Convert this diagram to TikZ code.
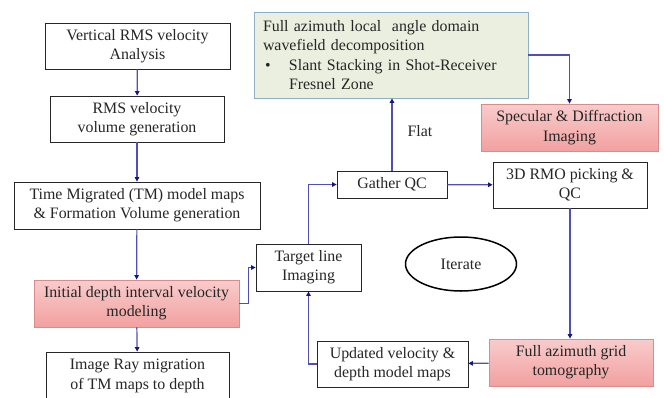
\documentclass[tikz,border=0pt]{standalone}
\usepackage{fontspec}
\setmainfont{Liberation Serif}
\usetikzlibrary{arrows.meta,shapes.geometric,calc}
\definecolor{ink}{HTML}{262626}
\definecolor{wire}{HTML}{5050B4}
\definecolor{tipc}{HTML}{16167F}
\definecolor{pinkedge}{HTML}{D98C8A}
\definecolor{pinktop}{HTML}{F9CCCC}
\definecolor{pinkbot}{HTML}{F2A0A0}
\definecolor{greenfill}{HTML}{EAEFDF}
\definecolor{greenedge}{HTML}{8FB0C4}
\begin{document}
\begin{tikzpicture}[x=1pt,y=-1pt,
  every node/.style={font=\fontsize{15.9}{19.3}\selectfont, text=ink, inner sep=0pt, align=center},
  plainbox/.style={rectangle, draw=ink, line width=0.8pt, fill=white},
  pinkbox/.style={rectangle, draw=pinkedge, line width=0.8pt, top color=pinktop, bottom color=pinkbot},
  flow/.style={draw=wire, line width=1.2pt, -{Triangle[length=4.5pt,width=4.5pt,color=tipc]}},
]
\useasboundingbox[fill=white] (0,0) rectangle (664,397);

% left column: time-domain preparation
\node[plainbox, minimum width=185pt, minimum height=46pt] (vrms) at (137.5,46)
  {Vertical RMS velocity\\Analysis};
\node[plainbox, minimum width=174pt, minimum height=46pt] (rmsvol) at (137,119)
  {RMS velocity\\volume generation};
\node[plainbox, minimum width=246pt, minimum height=47pt] (tmmaps) at (137,205.5)
  {Time Migrated (TM) model maps\\\& Formation Volume generation};
\node[pinkbox, minimum width=205pt, minimum height=47pt] (initvel) at (136.5,303.5)
  {Initial depth interval velocity\\modeling};
\node[plainbox, minimum width=183pt, minimum height=48pt] (imgray) at (137.5,376)
  {Image Ray migration\\of TM maps to depth};

% iteration loop
\node[plainbox, minimum width=105pt, minimum height=47pt] (target) at (308.5,267.5)
  {Target line\\Imaging};
\node[plainbox, minimum width=110pt, minimum height=27pt] (gather) at (392,184.5)
  {Gather QC};
\node[plainbox, minimum width=154pt, minimum height=46pt] (rmo) at (570,185)
  {3D RMO picking \&\\QC};
\node[pinkbox, minimum width=164pt, minimum height=47pt] (tomo) at (571,362.5)
  {Full azimuth grid\\tomography};
\node[plainbox, minimum width=151pt, minimum height=46pt] (update) at (392.5,364)
  {Updated velocity \&\\depth model maps};
\node[ellipse, draw=black, line width=1.5pt, minimum width=111pt, minimum height=54pt] (iter) at (461,264)
  {Iterate};

% angle-domain branch
\node[rectangle, draw=greenedge, line width=0.8pt, fill=greenfill,
      minimum width=274pt, minimum height=86pt, text width=256pt, align=left] (decomp) at (391,55)
  {Full azimuth local\ \ angle domain\\
   wavefield decomposition\\
   \makebox[26pt][l]{\hspace{2pt}\textbullet}Slant Stacking in Shot-Receiver\\
   \hspace{26pt}Fresnel Zone};
\node[pinkbox, minimum width=177pt, minimum height=47pt] (specdiff) at (569.5,127.5)
  {Specular \& Diffraction\\Imaging};

% connectors
\draw[flow] (vrms) -- (rmsvol);
\draw[flow] (rmsvol) -- (tmmaps);
\draw[flow] (tmmaps) -- (initvel);
\draw[flow] (initvel) -- (imgray);
\draw[flow] (initvel.east) -- ++(9,0) |- (target.west);
\draw[flow] (target.north) |- (gather.west);
\draw[flow] (gather) -- (rmo);
\draw[flow] (gather.north) -- (gather.north |- decomp.south)
  node[pos=0.55, right=15pt, inner sep=0pt] (flat) {Flat};
\draw[flow] (decomp.east) -| (specdiff.north);
\draw[flow] (rmo.south) -- (rmo.south |- tomo.north);
\draw[flow] (tomo) -- (update);
\draw[flow] (update.west) -| (target.south);
\end{tikzpicture}
\end{document}
